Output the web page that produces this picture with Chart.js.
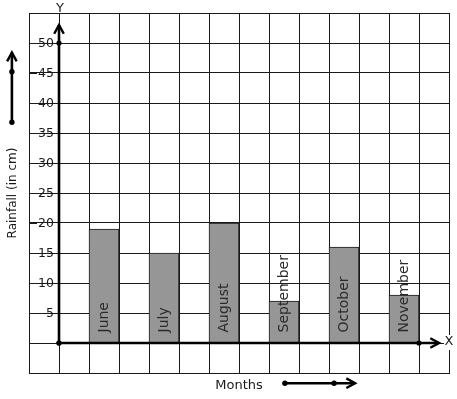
<!DOCTYPE html>
<html>
<head>
<meta charset="utf-8">
<script src="https://cdn.jsdelivr.net/npm/chart.js@4/dist/chart.umd.min.js"></script>
<style>
  html, body { margin: 0; padding: 0; background: #fff; }
  #wrap { width: 457px; height: 399px; }
</style>
</head>
<body>
<div id="wrap"><canvas id="rain"></canvas></div>
<script>
// data
const months = ['June', 'July', 'August', 'September', 'October', 'November'];
const rainfall = [19, 15, 20, 7, 16, 8];
const yTickMin = 5, yTickMax = 50, yStep = 5;

// decoration paths (axis arrows and direction hints), in axis units
const yAxisPath = [{x: 0, y: 0}, {x: 0, y: 50}, {x: 0, y: 53}];
const xAxisPath = [{x: 0, y: 0}, {x: 12, y: 0}, {x: 12.67, y: 0}];
const upHint = [{x: -1.57, y: 36.8}, {x: -1.57, y: 45.2}, {x: -1.57, y: 48.4}];
const rightHint = [{x: 7.53, y: -6.7}, {x: 9.17, y: -6.7}, {x: 9.87, y: -6.7}];

const ink = '#1a1a1a';
const font = 'DejaVu Sans';

const barPoints = rainfall.map((v, i) => ({x: 1.5 + 2 * i, y: v}));

function axisSet(points) {
  return {
    type: 'line', data: points, arrow: true, order: 1,
    borderColor: '#000', borderWidth: 2.6, backgroundColor: '#000',
    pointRadius: points.map((p, i) => i < points.length - 1 ? 2.6 : 0),
    pointBorderWidth: 0
  };
}

function head(ctx, a, b) {
  const ang = Math.atan2(b.y - a.y, b.x - a.x);
  ctx.beginPath();
  ctx.moveTo(b.x - 10 * Math.cos(ang - 0.5), b.y - 10 * Math.sin(ang - 0.5));
  ctx.lineTo(b.x, b.y);
  ctx.lineTo(b.x - 10 * Math.cos(ang + 0.5), b.y - 10 * Math.sin(ang + 0.5));
  ctx.stroke();
}

const decor = {
  id: 'decor',
  afterDatasetsDraw(chart) {
    const {ctx, scales: {x, y}} = chart;
    ctx.save();
    ctx.strokeStyle = '#000';
    ctx.fillStyle = '#000';
    ctx.lineWidth = 2.4;
    // arrow heads of the axes
    chart.data.datasets.forEach((ds, i) => {
      if (!ds.arrow) return;
      const pts = chart.getDatasetMeta(i).data;
      head(ctx, pts[pts.length - 2], pts[pts.length - 1]);
    });
    // direction hints beside the axis titles
    [upHint, rightHint].forEach(path => {
      const px = path.map(p => ({x: x.getPixelForValue(p.x), y: y.getPixelForValue(p.y)}));
      ctx.lineWidth = 2.6;
      ctx.beginPath();
      px.forEach((p, i) => i ? ctx.lineTo(p.x, p.y) : ctx.moveTo(p.x, p.y));
      ctx.stroke();
      px.slice(0, -1).forEach(p => {
        ctx.beginPath();
        ctx.arc(p.x, p.y, 2.7, 0, Math.PI * 2);
        ctx.fill();
      });
      ctx.lineWidth = 2.4;
      head(ctx, px[px.length - 2], px[px.length - 1]);
    });
    // month names inside bars
    const bars = chart.getDatasetMeta(0).data;
    ctx.fillStyle = '#2a2a2a';
    ctx.font = '14px "' + font + '"';
    ctx.textAlign = 'left';
    ctx.textBaseline = 'middle';
    bars.forEach((el, i) => {
      ctx.save();
      ctx.translate(el.x, el.base - 10);
      ctx.rotate(-Math.PI / 2);
      ctx.fillText(months[i], 0, 0);
      ctx.restore();
    });
    ctx.restore();
  },
  afterDraw(chart) {
    const {ctx, chartArea, scales: {x, y}} = chart;
    ctx.save();
    // small dashes before the tick numbers
    ctx.strokeStyle = ink;
    ctx.lineWidth = 1;
    y.ticks.forEach(t => {
      if (t.value < yTickMin || t.value > yTickMax) return;
      const py = Math.round(y.getPixelForValue(t.value)) + 0.5;
      ctx.beginPath();
      ctx.moveTo(chartArea.left, py);
      ctx.lineTo(chartArea.left + 8, py);
      ctx.stroke();
    });
    // axis letters
    ctx.font = '13px "' + font + '"';
    ctx.textAlign = 'center';
    ctx.textBaseline = 'middle';
    const yx = x.getPixelForValue(0) + 1, yy = chartArea.top - 4;
    ctx.fillStyle = '#fff';
    ctx.fillRect(yx - 6, yy - 8, 12, 11);
    ctx.fillStyle = ink;
    ctx.fillText('Y', yx, yy);
    const xx = chartArea.right, xy = y.getPixelForValue(0) - 1;
    ctx.fillStyle = '#fff';
    ctx.fillRect(xx - 5, xy - 7, 10, 15);
    ctx.fillStyle = ink;
    ctx.fillText('X', xx, xy);
    ctx.restore();
  }
};

new Chart('rain', {
  type: 'bar',
  data: {
    datasets: [
      {
        type: 'bar', data: barPoints, order: 2,
        backgroundColor: '#969696', borderColor: ink, borderWidth: 1,
        barThickness: 30
      },
      axisSet(yAxisPath),
      axisSet(xAxisPath)
    ]
  },
  options: {
    responsive: true,
    maintainAspectRatio: false,
    animation: false,
    layout: { padding: { top: 13, right: 8, left: 0, bottom: 0 } },
    plugins: { legend: { display: false }, tooltip: { enabled: false } },
    scales: {
      x: {
        type: 'linear', min: -1, max: 13, offset: false,
        afterFit(s) { s.height = 26; s.paddingLeft = 0; s.paddingRight = 0; },
        ticks: { display: false, stepSize: 1 },
        grid: { color: ink, lineWidth: 1, drawTicks: false, offset: false },
        border: { color: ink, width: 1 },
        title: { display: true, text: 'Months', color: ink,
                 font: { family: font, size: 13 }, padding: { top: 0, bottom: 6 } }
      },
      y: {
        min: yTickMin - 2 * yStep, max: yTickMax + yStep,
        afterFit(s) { s.width = 29; s.paddingTop = 0; s.paddingBottom = 0; },
        ticks: {
          stepSize: yStep, mirror: true, crossAlign: 'far', padding: 9, color: ink,
          labelOffset: 1,
          font: { family: font, size: 12.5 },
          callback: v => (v >= yTickMin && v <= yTickMax) ? String(v) : ''
        },
        grid: { color: ink, lineWidth: 1, drawTicks: false },
        border: { color: ink, width: 1 },
        title: { display: true, text: 'Rainfall (in cm)', color: ink,
                 font: { family: font, size: 12 }, padding: { top: 6, bottom: 0 } }
      }
    }
  },
  plugins: [decor]
});
</script>
</body>
</html>
